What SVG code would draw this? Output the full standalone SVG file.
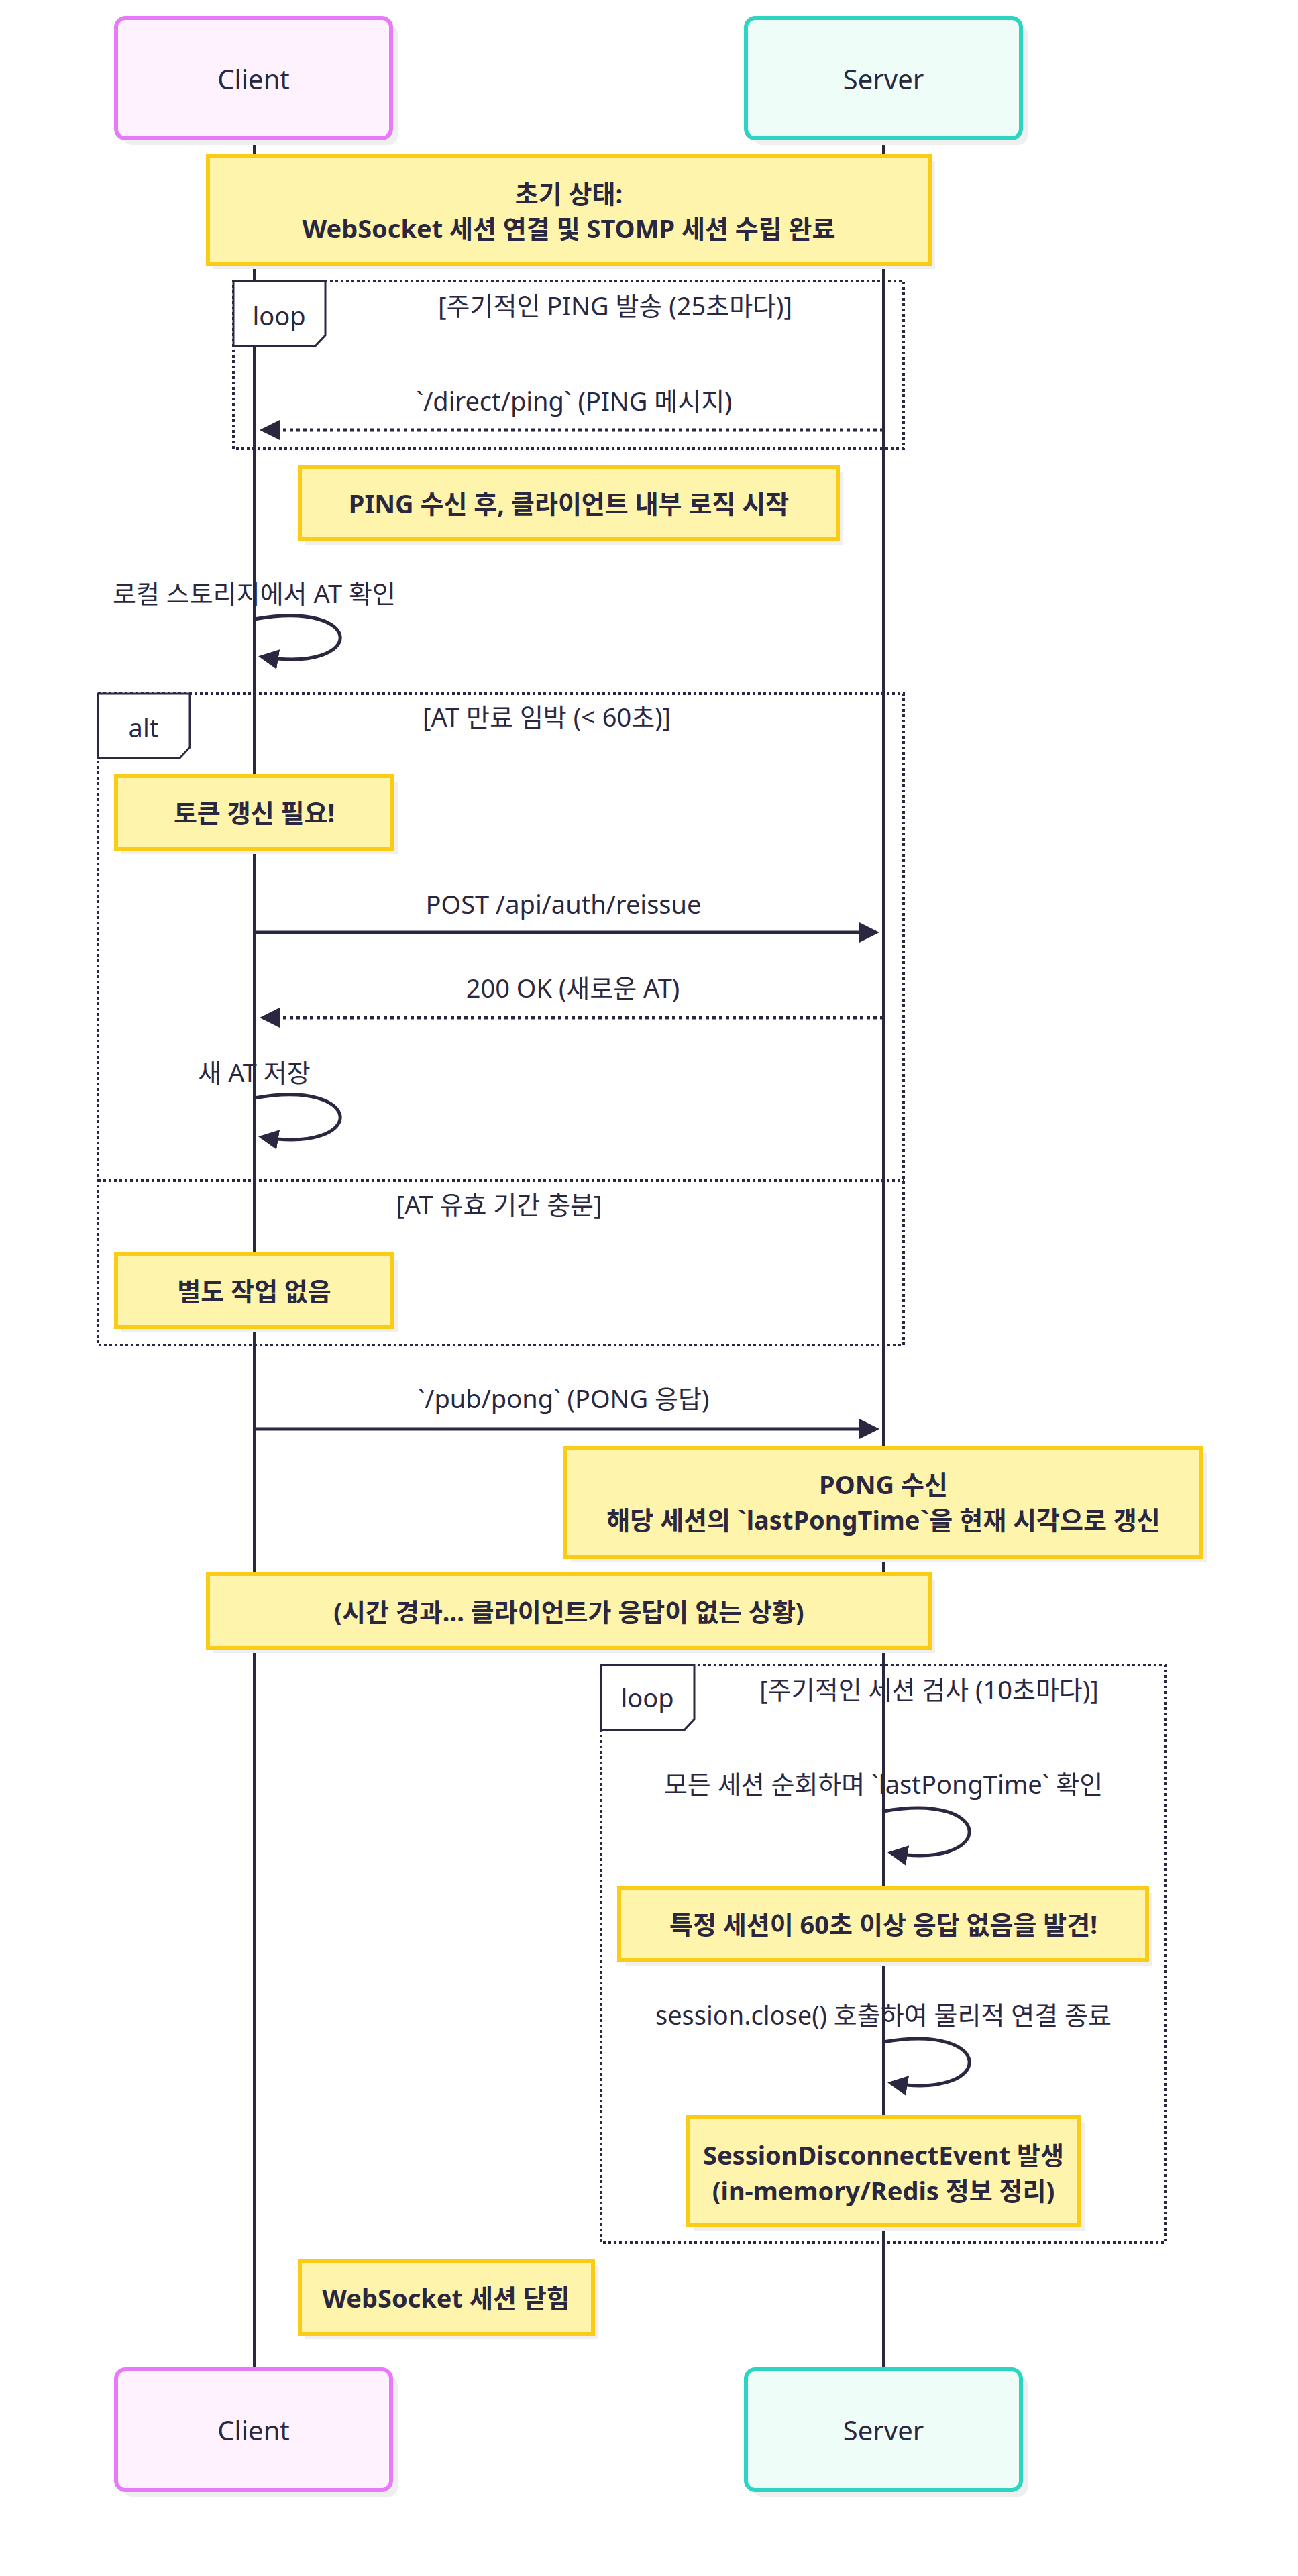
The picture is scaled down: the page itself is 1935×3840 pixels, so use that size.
<svg xmlns="http://www.w3.org/2000/svg" width="1935" height="3840" viewBox="0 0 1935 3840">
<style>
text{font-family:"Noto Sans","Noto Sans CJK KR",sans-serif;fill:#2a2840;text-anchor:middle;dominant-baseline:central}
.actor{font-size:40px}
.msg{font-size:38px}
.note text{font-size:38px;font-weight:bold}
.note rect.b{fill:#fef4ab;stroke:#facc15;stroke-width:6}
.sh{fill:#efefef}
.life{stroke:#2a2840;stroke-width:4}
.frame{fill:none;stroke:#2a2840;stroke-width:4;stroke-dasharray:4 4}
.lbl{fill:#fff;stroke:#2a2840;stroke-width:3}
.line{fill:none;stroke:#2a2840;stroke-width:5}
.dot{stroke-dasharray:5 5}
</style>
<defs>
<marker id="ah" markerWidth="12" markerHeight="12" refX="10" refY="6" orient="auto" markerUnits="userSpaceOnUse" viewBox="0 0 12 12"><path d="M0,0 L12,6 L0,12 z" fill="#2a2840"/></marker>
<marker id="ahb" viewBox="0 0 12 12" refX="10" refY="6" markerWidth="30" markerHeight="30" orient="auto" markerUnits="userSpaceOnUse"><path d="M0,0 L12,6 L0,12 z" fill="#2a2840"/></marker>
</defs>
<g id="lifelines">
<line class="life" x1="379" y1="206" x2="379" y2="3532"/>
<line class="life" x1="1317" y1="206" x2="1317" y2="3532"/>
</g>
<g id="actor-client-top"><rect class="sh" x="183" y="37" width="410" height="179" rx="14"/><rect x="173" y="27" width="410" height="179" rx="14" fill="#fdf2fe" stroke="#e879f9" stroke-width="6"/><text class="actor" x="378" y="117">Client</text></g>
<g id="actor-server-top"><rect class="sh" x="1122" y="37" width="410" height="179" rx="14"/><rect x="1112" y="27" width="410" height="179" rx="14" fill="#effdf9" stroke="#2dd4bf" stroke-width="6"/><text class="actor" x="1317" y="117">Server</text></g>
<g id="actor-client-bottom"><rect class="sh" x="183" y="3542" width="410" height="180" rx="14"/><rect x="173" y="3532" width="410" height="180" rx="14" fill="#fdf2fe" stroke="#e879f9" stroke-width="6"/><text class="actor" x="378" y="3622">Client</text></g>
<g id="actor-server-bottom"><rect class="sh" x="1122" y="3542" width="410" height="180" rx="14"/><rect x="1112" y="3532" width="410" height="180" rx="14" fill="#effdf9" stroke="#2dd4bf" stroke-width="6"/><text class="actor" x="1317" y="3622">Server</text></g>

<g id="note-init" class="note"><rect class="sh" x="318" y="240" width="1076" height="161"/><rect class="b" x="310" y="232" width="1076" height="161"/><text x="848" y="288">초기 상태:</text><text x="848" y="340">WebSocket 세션 연결 및 STOMP 세션 수립 완료</text></g>

<g id="loop1"><rect class="frame" x="348" y="419" width="999" height="250"/><path class="lbl" d="M348,419 H485 V500 L470,516 H348 Z"/><text class="msg" x="416" y="470">loop</text><text class="msg" x="917" y="455">[주기적인 PING 발송 (25초마다)]</text></g>

<g id="note-ping" class="note"><rect class="sh" x="455" y="704" width="802" height="108"/><rect class="b" x="447" y="696" width="802" height="108"/><text x="848" y="750">PING 수신 후, 클라이언트 내부 로직 시작</text></g>

<g id="alt"><rect class="frame" x="146" y="1034" width="1201" height="971"/><line class="frame" x1="146" y1="1760" x2="1347" y2="1760"/><path class="lbl" d="M146,1034 H283 V1114 L268,1130 H146 Z"/><text class="msg" x="214" y="1084">alt</text><text class="msg" x="815" y="1068">[AT 만료 임박 (&lt; 60초)]</text><text class="msg" x="744" y="1795">[AT 유효 기간 충분]</text></g>

<g id="note-renew" class="note"><rect class="sh" x="181" y="1165" width="412" height="108"/><rect class="b" x="173" y="1157" width="412" height="108"/><text x="379" y="1211">토큰 갱신 필요!</text></g>
<g id="note-none" class="note"><rect class="sh" x="181" y="1878" width="412" height="108"/><rect class="b" x="173" y="1870" width="412" height="108"/><text x="379" y="1924">별도 작업 없음</text></g>

<g id="note-pong" class="note"><rect class="sh" x="851" y="2166" width="948" height="163"/><rect class="b" x="843" y="2158" width="948" height="163"/><text x="1317" y="2212">PONG 수신</text><text x="1317" y="2265">해당 세션의 `lastPongTime`을 현재 시각으로 갱신</text></g>
<g id="note-time" class="note"><rect class="sh" x="318" y="2355" width="1076" height="109"/><rect class="b" x="310" y="2347" width="1076" height="109"/><text x="848" y="2402">(시간 경과... 클라이언트가 응답이 없는 상황)</text></g>

<g id="loop2"><rect class="frame" x="896" y="2482" width="841" height="861"/><path class="lbl" d="M896,2482 H1035 V2563 L1020,2579 H896 Z"/><text class="msg" x="965" y="2530">loop</text><text class="msg" x="1385" y="2518">[주기적인 세션 검사 (10초마다)]</text></g>

<g id="note-found" class="note"><rect class="sh" x="931" y="2822" width="787" height="108"/><rect class="b" x="923" y="2814" width="787" height="108"/><text x="1317" y="2868">특정 세션이 60초 이상 응답 없음을 발견!</text></g>
<g id="note-event" class="note"><rect class="sh" x="1034" y="3164" width="583" height="161"/><rect class="b" x="1026" y="3156" width="583" height="161"/><text x="1317" y="3212">SessionDisconnectEvent 발생</text><text x="1317" y="3265">(in-memory/Redis 정보 정리)</text></g>
<g id="note-closed" class="note"><rect class="sh" x="455" y="3378" width="437" height="109"/><rect class="b" x="447" y="3370" width="437" height="109"/><text x="665" y="3425">WebSocket 세션 닫힘</text></g>

<g id="connectors">
<line class="line dot" x1="1317" y1="641" x2="392" y2="641" marker-end="url(#ahb)"/>
<text class="msg" x="856" y="597">`/direct/ping` (PING 메시지)</text>
<path class="line" d="M379,923 C548,893 548,1005 390,979" marker-end="url(#ahb)"/>
<text class="msg" x="379" y="884">로컬 스토리지에서 AT 확인</text>
<line class="line" x1="379" y1="1390" x2="1306" y2="1390" marker-end="url(#ahb)"/>
<text class="msg" x="840" y="1347">POST /api/auth/reissue</text>
<line class="line dot" x1="1317" y1="1517" x2="392" y2="1517" marker-end="url(#ahb)"/>
<text class="msg" x="854" y="1472">200 OK (새로운 AT)</text>
<path class="line" d="M379,1637 C548,1607 548,1721 390,1695" marker-end="url(#ahb)"/>
<text class="msg" x="379" y="1598">새 AT 저장</text>
<line class="line" x1="379" y1="2130" x2="1306" y2="2130" marker-end="url(#ahb)"/>
<text class="msg" x="840" y="2084">`/pub/pong` (PONG 응답)</text>
<path class="line" d="M1317,2700 C1486,2670 1486,2788 1328,2762" marker-end="url(#ahb)"/>
<text class="msg" x="1317" y="2659">모든 세션 순회하며 `lastPongTime` 확인</text>
<path class="line" d="M1317,3044 C1486,3014 1486,3131 1328,3105" marker-end="url(#ahb)"/>
<text class="msg" x="1317" y="3003">session.close() 호출하여 물리적 연결 종료</text>
</g>
</svg>
